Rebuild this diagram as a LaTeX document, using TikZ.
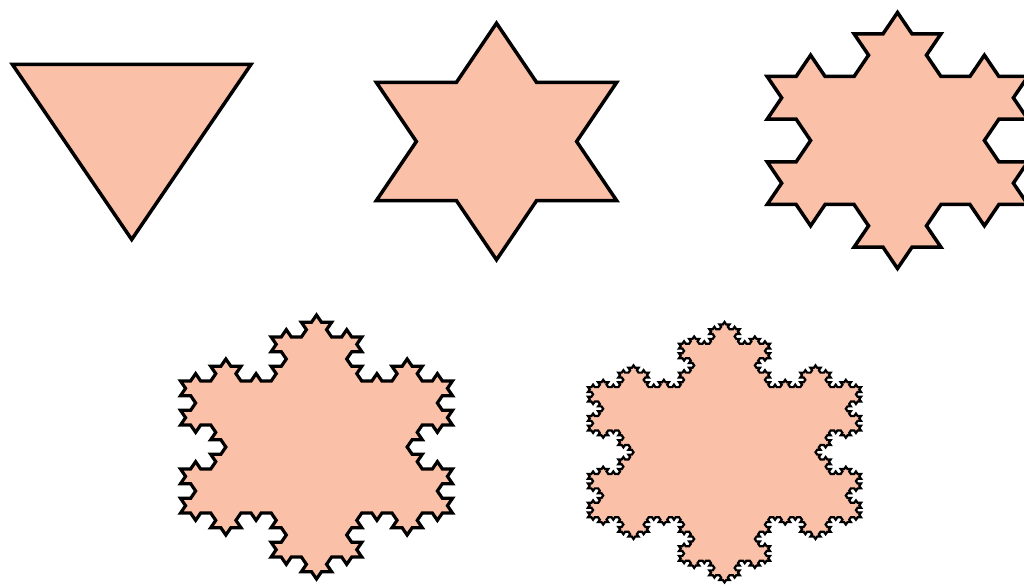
\documentclass[tikz,border=0pt]{standalone}
\definecolor{salmonfill}{RGB}{251,192,168}
\tikzset{flake/.style={fill=salmonfill, draw=black, line width=#1, line join=miter}}
\newcommand\kochseg[5]{%
  \ifnum#1=0
    \xdef\kpath{\kpath -- (\fpeval{round(#4,5)},\fpeval{round(#5,5)})}%
  \else
    \begingroup
      \edef\kax{\fpeval{(2*(#2)+(#4))/3}}%
      \edef\kay{\fpeval{(2*(#3)+(#5))/3}}%
      \edef\kbx{\fpeval{((#2)+2*(#4))/3}}%
      \edef\kby{\fpeval{((#3)+2*(#5))/3}}%
      \edef\kpx{\fpeval{\kax+0.5*(\kbx-\kax)-sqrt(3)/2*(\kby-\kay)}}%
      \edef\kpy{\fpeval{\kay+sqrt(3)/2*(\kbx-\kax)+0.5*(\kby-\kay)}}%
      \edef\km{\the\numexpr#1-1\relax}%
      \edef\kx{\noexpand\kochseg{\km}{#2}{#3}{\kax}{\kay}%
        \noexpand\kochseg{\km}{\kax}{\kay}{\kpx}{\kpy}%
        \noexpand\kochseg{\km}{\kpx}{\kpy}{\kbx}{\kby}%
        \noexpand\kochseg{\km}{\kbx}{\kby}{#4}{#5}}%
    \expandafter\endgroup\kx
  \fi}
\newcommand\makeflake[1]{%
  \gdef\kpath{}%
  \kochseg{#1}{-0.8660254037844386}{0.5}{0.8660254037844386}{0.5}%
  \kochseg{#1}{0.8660254037844386}{0.5}{0}{-1}%
  \kochseg{#1}{0}{-1}{-0.8660254037844386}{0.5}%
}
% #1 level, #2 cx, #3 cy, #4 R, #5 R*k, #6 line width
\newcommand\drawflake[6]{%
  \makeflake{#1}%
  \edef\kcmd{\noexpand\path[flake=#6, shift={(#2,#3)}, xscale=#4, yscale=-#5]
    (-0.86603,0.5) \kpath -- cycle;}%
  \kcmd}
\begin{document}
\begin{tikzpicture}[x=1pt,y=-1pt]
\fill[white] (0,0) rectangle (1024,585);
\useasboundingbox (0,0) rectangle (1024,585);
\clip (0,0) rectangle (1024,585);
\drawflake{0}{131.7}{122.8}{137.7}{116.7}{3.5pt}
\drawflake{1}{496.5}{141.5}{138.8}{118.3}{3.5pt}
\drawflake{2}{897.5}{140.5}{150.5}{128}{3.5pt}
\drawflake{3}{316.5}{447}{157}{132}{3.2pt}
\drawflake{4}{724.5}{452.2}{157.6}{130.2}{2.2pt}
\end{tikzpicture}
\end{document}
